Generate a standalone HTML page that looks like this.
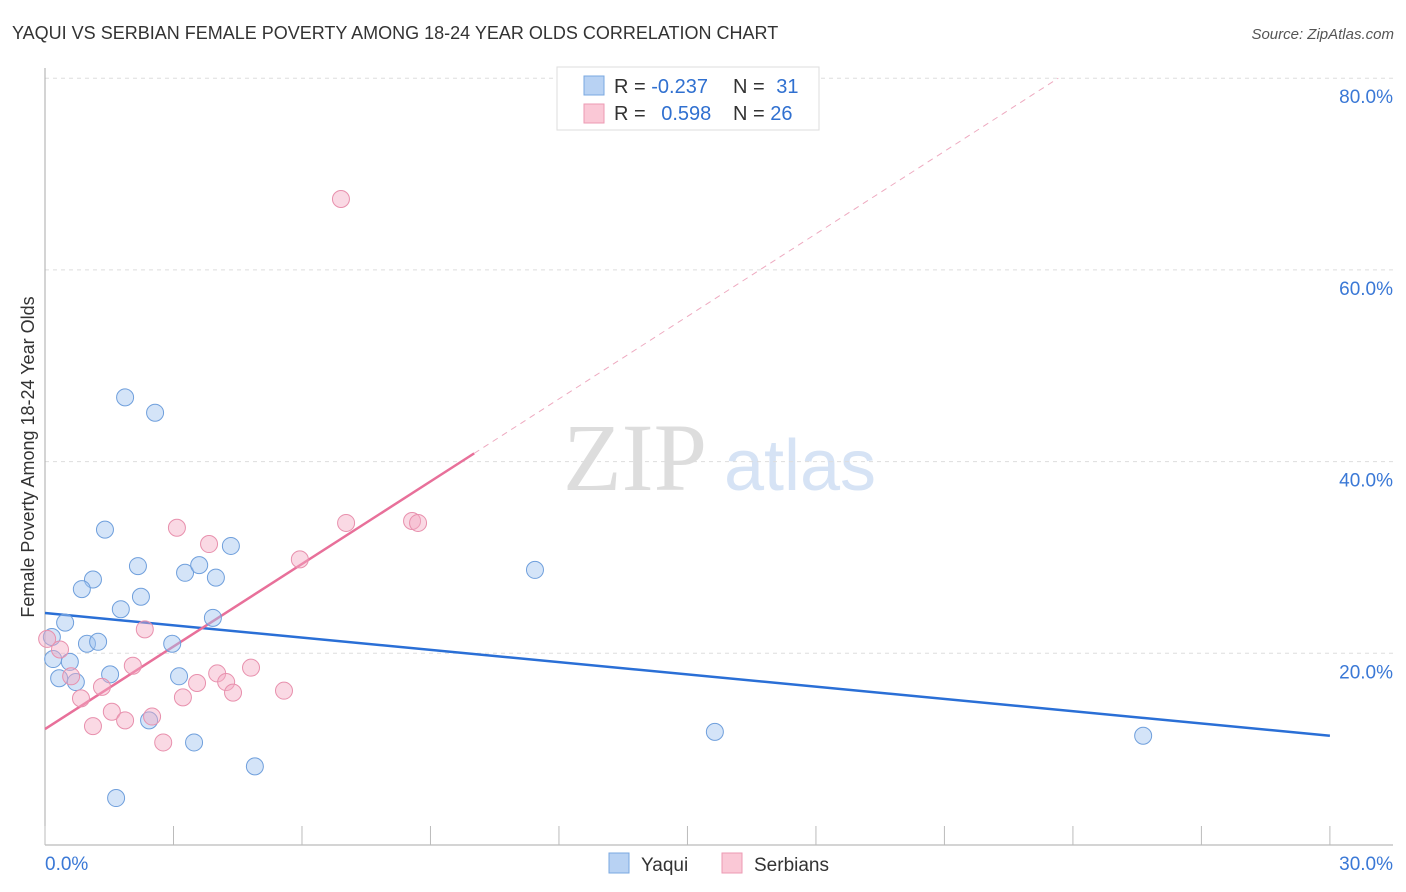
<!DOCTYPE html>
<html><head><meta charset="utf-8"><style>
body{margin:0;background:#fff;font-family:"Liberation Sans",sans-serif;}
svg{display:block}
</style></head><body>
<svg id="chart" width="1406" height="892" viewBox="0 0 1406 892" xmlns="http://www.w3.org/2000/svg">
<text x="12" y="39" font-size="18" fill="#333">YAQUI VS SERBIAN FEMALE POVERTY AMONG 18-24 YEAR OLDS CORRELATION CHART</text>
<text x="1394" y="39" font-size="15" fill="#555" font-style="italic" text-anchor="end">Source: ZipAtlas.com</text>
<g>
<text x="635" y="490" font-size="96" font-family="Liberation Serif,serif" fill="#ddd" text-anchor="middle">ZIP</text>
<text x="800" y="490" font-size="72" fill="#d6e3f5" text-anchor="middle">atlas</text>
</g>
<g id="grid"></g>
<g id="axes"></g>
<g id="lines"></g>
<g id="points"></g>
<text transform="translate(34,457) rotate(-90)" font-size="18" fill="#333" text-anchor="middle">Female Poverty Among 18-24 Year Olds</text>
<g>
<rect x="557" y="67" width="262" height="63" fill="#fff" stroke="#ddd"/>
<rect x="584" y="76" width="20" height="19" fill="#b8d2f3" stroke="#7aa8e0"/>
<rect x="584" y="104" width="20" height="19" fill="#fac8d6" stroke="#ec9ab3"/>
<text x="614" y="93" font-size="20" fill="#333">R = <tspan fill="#3070d0">-0.237</tspan></text>
<text x="733" y="93" font-size="20" fill="#333">N = <tspan fill="#3070d0" dx="6">31</tspan></text>
<text x="614" y="120" font-size="20" fill="#333">R = <tspan fill="#3070d0" dx="10">0.598</tspan></text>
<text x="733" y="120" font-size="20" fill="#333">N = <tspan fill="#3070d0">26</tspan></text>
</g>
<g>
<rect x="609" y="853" width="20" height="20" fill="#b8d2f3" stroke="#7aa8e0"/>
<text x="641" y="871" font-size="19" fill="#333">Yaqui</text>
<rect x="722" y="853" width="20" height="20" fill="#fac8d6" stroke="#ec9ab3"/>
<text x="754" y="871" font-size="19" fill="#333">Serbians</text>
</g>
</svg>
<script>
const yTicks=[20,40,60,80];
const yTickLabels=["20.0%","40.0%","60.0%","80.0%"];
const xTickLabels=["0.0%","30.0%"];
const yaquiX=[1.87,2.57,1.40,4.34,2.17,3.27,3.60,3.99,1.12,0.86,2.24,1.77,3.92,0.47,0.98,1.24,2.97,0.16,0.19,0.58,0.33,0.72,1.52,3.13,2.43,3.48,4.90,1.66,11.44,15.64,25.64];
const yaquiY=[46.7,45.1,32.9,31.2,29.1,28.4,29.2,27.9,27.7,26.7,25.9,24.6,23.7,23.2,21.0,21.2,21.0,21.7,19.4,19.1,17.4,17.0,17.8,17.6,13.0,10.7,8.2,4.9,28.7,11.8,11.4];
const serbX=[6.91,3.08,3.83,7.03,8.57,8.71,5.95,2.33,0.05,0.35,2.05,4.02,4.81,3.55,4.23,4.39,5.58,3.22,1.33,0.61,0.84,1.56,1.87,2.50,1.12,2.76];
const serbY=[67.4,33.1,31.4,33.6,33.8,33.6,29.8,22.5,21.5,20.4,18.7,17.9,18.5,16.9,17.0,15.9,16.1,15.4,16.5,17.6,15.3,13.9,13.0,13.4,12.4,10.7];
const yaquiLine=[24.2,11.4];
const serbLine=[12.1,2.87];
const NS="http://www.w3.org/2000/svg";
const X=v=>45+v*42.83, Y=v=>845-v*9.585;
function mk(tag,attrs,parent){const e=document.createElementNS(NS,tag);for(const k in attrs)e.setAttribute(k,attrs[k]);document.getElementById(parent).appendChild(e);return e;}
yTicks.forEach((t,i)=>{
 const g=mk('line',{x1:45,x2:1393,y1:Y(t),y2:Y(t),stroke:'#ddd','stroke-dasharray':'4,4'},'grid');
 
 
 const tx=mk('text',{x:1393,y:Y(t)+25,'font-size':19,fill:'#3a78d6','text-anchor':'end'},'grid');
 tx.textContent=yTickLabels[i];
 
 
});
mk('line',{x1:45,x2:45,y1:68,y2:845,stroke:'#aaa'},'axes');
mk('line',{x1:45,x2:1393,y1:845,y2:845,stroke:'#aaa'},'axes');
for(let i=0;i<=10;i++){const t=mk('line',{x1:X(i*3),x2:X(i*3),y1:826,y2:845,stroke:'#bbb'},'axes');}
[[0,'start'],[30,'end']].forEach((p,i)=>{const t=mk('text',{x:i?1393:45,y:870,'font-size':19,fill:'#3a78d6','text-anchor':p[1]},'axes');t.textContent=xTickLabels[i];});
// points
function pts(xs,ys,fill,stroke,name){xs.forEach((x,i)=>{const c=mk('circle',{cx:X(x),cy:Y(ys[i]),r:8.5,fill:fill,stroke:stroke,'stroke-width':1},'points');});}
pts(yaquiX,yaquiY,'rgba(160,196,240,0.45)','#6f9fdc','yaqui-point');
pts(serbX,serbY,'rgba(245,170,195,0.45)','#e890ad','serbian-point');
// regression lines
let l=mk('line',{x1:X(0),y1:Y(yaquiLine[0]),x2:X(30),y2:Y(yaquiLine[1]),stroke:'#2a6fd6','stroke-width':2.5},'lines');

const sx=10.02, ex=(80-serbLine[0])/serbLine[1];
l=mk('line',{x1:X(0),y1:Y(serbLine[0]),x2:X(sx),y2:Y(serbLine[0]+serbLine[1]*sx),stroke:'#e8709a','stroke-width':2.5},'lines');

l=mk('line',{x1:X(sx),y1:Y(serbLine[0]+serbLine[1]*sx),x2:X(ex),y2:Y(80),stroke:'#eeaac0','stroke-width':1,'stroke-dasharray':'6,5'},'lines');

</script>
</body></html>
